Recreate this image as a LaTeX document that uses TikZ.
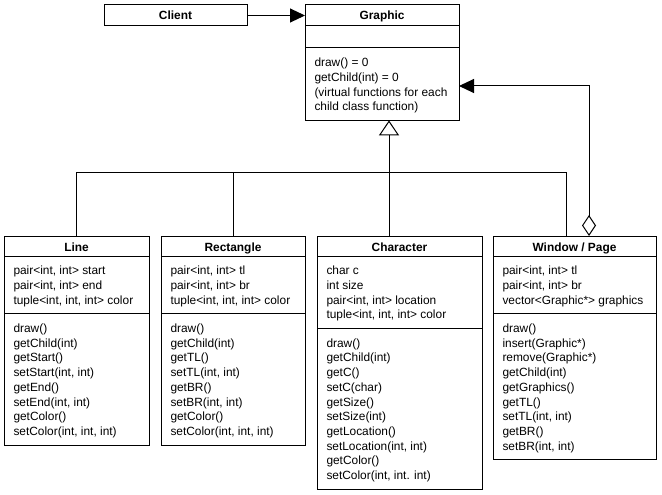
\documentclass[tikz,border=0pt]{standalone}
\usepackage{fontspec}
\setmainfont{Liberation Sans}
\newcommand*{\umlfont}{\fontsize{11.9}{14.7}\selectfont}
\usetikzlibrary{arrows.meta}
\tikzstyle{base}=[x=1pt, y=-1pt, line width=1pt]
\tikzstyle{classbox}=[draw, rectangle, inner sep=0pt, outer sep=0pt, anchor=north west]
\tikzstyle{classname}=[anchor=base, inner sep=0pt, font=\umlfont\bfseries]
\tikzstyle{members}=[anchor=north west, inner sep=0pt, align=left, font=\umlfont]
\tikzstyle{assoc}=[-{Triangle[length=15pt, width=14pt]}]
\tikzstyle{inherit}=[-{Triangle[open, length=15pt, width=20pt]}]
\tikzstyle{aggregate}=[{Diamond[open, length=21pt, width=14pt]}-{Triangle[length=15pt, width=14pt]}]

\begin{document}
\begin{tikzpicture}[base]
    \path [use as bounding box] (0,0) rectangle (662,495);
        \node [classbox, minimum width=143pt, minimum height=21pt] (client) at (104,5) {};
        \node [classname] (clientname) at ([yshift=-14.5pt]client.north) {Client};

        \node [classbox, minimum width=154pt, minimum height=115.4pt] (graphic) at (305,5) {};
        \node [classname] (graphicname) at ([yshift=-15pt]graphic.north) {Graphic};
        \draw ([yshift=-21pt]graphic.north west) -- ([yshift=-21pt]graphic.north east);
        \draw ([yshift=-43pt]graphic.north west) -- ([yshift=-43pt]graphic.north east);
        \node [members] (graphicops) at ([xshift=9pt, yshift=-51.1pt]graphic.north west)
            {\strut draw() = 0\\getChild(int) = 0\\(virtual functions for each\\child class function)};

        \node [classbox, minimum width=145pt, minimum height=209pt] (line) at (4,236) {};
        \node [classname] (linename) at ([yshift=-15pt]line.north) {Line};
        \draw ([yshift=-20pt]line.north west) -- ([yshift=-20pt]line.north east);
        \draw ([yshift=-77.7pt]line.north west) -- ([yshift=-77.7pt]line.north east);
        \node [members] (lineattr) at ([xshift=9pt, yshift=-28.1pt]line.north west)
            {\strut pair<int, int> start\\pair<int, int> end\\tuple<int, int, int> color};
        \node [members] (lineops) at ([xshift=9pt, yshift=-85.8pt]line.north west)
            {\strut draw()\\getChild(int)\\getStart()\\setStart(int, int)\\getEnd()\\setEnd(int, int)\\getColor()\\setColor(int, int, int)};

        \node [classbox, minimum width=144pt, minimum height=209pt] (rect) at (161,236) {};
        \node [classname] (rectname) at ([yshift=-15pt]rect.north) {Rectangle};
        \draw ([yshift=-20pt]rect.north west) -- ([yshift=-20pt]rect.north east);
        \draw ([yshift=-77.7pt]rect.north west) -- ([yshift=-77.7pt]rect.north east);
        \node [members] (rectattr) at ([xshift=9pt, yshift=-28.1pt]rect.north west)
            {\strut pair<int, int> tl\\pair<int, int> br\\tuple<int, int, int> color};
        \node [members] (rectops) at ([xshift=9pt, yshift=-85.8pt]rect.north west)
            {\strut draw()\\getChild(int)\\getTL()\\setTL(int, int)\\getBR()\\setBR(int, int)\\getColor()\\setColor(int, int, int)};

        \node [classbox, minimum width=165pt, minimum height=253pt] (chr) at (317,236) {};
        \node [classname] (chrname) at ([yshift=-15pt]chr.north) {Character};
        \draw ([yshift=-20pt]chr.north west) -- ([yshift=-20pt]chr.north east);
        \draw ([yshift=-92.4pt]chr.north west) -- ([yshift=-92.4pt]chr.north east);
        \node [members] (chrattr) at ([xshift=9pt, yshift=-28.1pt]chr.north west)
            {\strut char c\\int size\\pair<int, int> location\\tuple<int, int, int> color};
        \node [members] (chrops) at ([xshift=9pt, yshift=-100.5pt]chr.north west)
            {\strut draw()\\getChild(int)\\getC()\\setC(char)\\getSize()\\setSize(int)\\getLocation()\\setLocation(int, int)\\getColor()\\setColor(int, int. int)};

        \node [classbox, minimum width=163pt, minimum height=223.6pt] (window) at (493,236) {};
        \node [classname] (windowname) at ([yshift=-15pt]window.north) {Window / Page};
        \draw ([yshift=-20pt]window.north west) -- ([yshift=-20pt]window.north east);
        \draw ([yshift=-77.7pt]window.north west) -- ([yshift=-77.7pt]window.north east);
        \node [members] (windowattr) at ([xshift=9pt, yshift=-28.1pt]window.north west)
            {\strut pair<int, int> tl\\pair<int, int> br\\vector<Graphic*> graphics};
        \node [members] (windowops) at ([xshift=9pt, yshift=-85.8pt]window.north west)
            {\strut draw()\\insert(Graphic*)\\remove(Graphic*)\\getChild(int)\\getGraphics()\\getTL()\\setTL(int, int)\\getBR()\\setBR(int, int)};

        \coordinate (bus) at (389,172);
        \coordinate (aggbend) at (589,86);
        \draw [assoc] (client.east) -- (client.east -| graphic.west);
        \draw [inherit] (chr.north -| bus) -- (graphic.south -| bus);
        \draw (line.north) |- ([xshift=-8.5pt]window.north |- bus) -- ([xshift=-8.5pt]window.north);
        \draw (rect.north) -- (rect.north |- bus);
        \draw [aggregate] ([xshift=14.5pt]window.north) -- (aggbend) -- (aggbend -| graphic.east);
    \end{tikzpicture}
\end{document}
